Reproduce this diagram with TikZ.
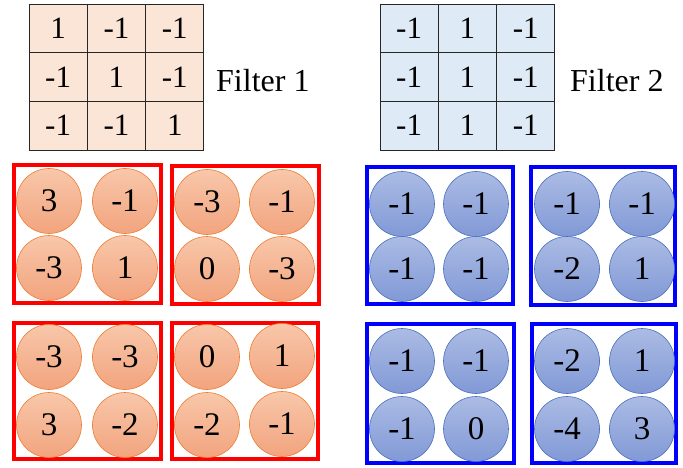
\documentclass[tikz,border=0pt]{standalone}
\usepackage{fontspec}
\setmainfont{Liberation Serif}
\definecolor{peach}{HTML}{FBE5D6}
\definecolor{paleblue}{HTML}{DEEBF7}
\definecolor{ortop}{HTML}{F8C7AA}
\definecolor{orbot}{HTML}{F2A47E}
\definecolor{orline}{HTML}{ED7D31}
\definecolor{bltop}{HTML}{ABBBE4}
\definecolor{blbot}{HTML}{8199D6}
\definecolor{blline}{HTML}{4A6FBE}
\tikzset{
  cellA/.style={draw=black!85, line width=0.9pt, fill=peach, minimum width=58.3pt, minimum height=48.7pt, inner sep=0pt, font=\fontsize{31}{33}\selectfont},
  cellB/.style={cellA, fill=paleblue},
  lbl/.style={anchor=base west, inner sep=0pt, font=\fontsize{32}{34}\selectfont},
  ocirc/.style={circle, draw=orline, line width=0.6pt, top color=ortop, bottom color=orbot, minimum size=65pt, inner sep=0pt, font=\fontsize{33}{35}\selectfont},
  bcirc/.style={circle, draw=blline, line width=0.6pt, top color=bltop, bottom color=blbot, minimum size=65pt, inner sep=0pt, font=\fontsize{33}{35}\selectfont},
  rbox/.style={draw=red, line width=4pt},
  bbox/.style={draw=blue, line width=4pt}
}
\begin{document}
\begin{tikzpicture}[x=1pt,y=-1pt]
\useasboundingbox (0,0) rectangle (683,468);
% Filter 1
\foreach \r/\vals in {1/{1,-1,-1},2/{-1,1,-1},3/{-1,-1,1}}{
  \foreach \v [count=\c] in \vals {
    \node[cellA] (fa\r\c) at ({29+58.3*(\c-0.5)},{4+48.7*(\r-0.5)}) {\v};
  }
}
\node[lbl] (f1) at (216,92) {Filter 1};
% Filter 2
\foreach \r/\vals in {1/{-1,1,-1},2/{-1,1,-1},3/{-1,1,-1}}{
  \foreach \v [count=\c] in \vals {
    \node[cellB] (fb\r\c) at ({380+58.3*(\c-0.5)},{4+48.7*(\r-0.5)}) {\v};
  }
}
\node[lbl] (f2) at (570,92) {Filter 2};
% red boxes
\draw[rbox] (14,165) rectangle (161,303);
\draw[rbox] (172,166) rectangle (319,304);
\draw[rbox] (14,323) rectangle (161,459);
\draw[rbox] (172,323) rectangle (318,459);
% blue boxes
\draw[bbox] (367,167) rectangle (513,304);
\draw[bbox] (531,167) rectangle (675,305);
\draw[bbox] (367,324) rectangle (514,463);
\draw[bbox] (532,324) rectangle (676,463);
% orange circles
\node[ocirc] (a1) at (49,201) {3};
\node[ocirc] (a2) at (125,201) {-1};
\node[ocirc] (a3) at (49,268) {-3};
\node[ocirc] (a4) at (125,268) {1};
\node[ocirc] (b1) at (207,202) {-3};
\node[ocirc] (b2) at (282,202) {-1};
\node[ocirc] (b3) at (207,269) {0};
\node[ocirc] (b4) at (282,269) {-3};
\node[ocirc] (c1) at (49,357) {-3};
\node[ocirc] (c2) at (125,357) {-3};
\node[ocirc] (c3) at (49,425) {3};
\node[ocirc] (c4) at (125,425) {-2};
\node[ocirc] (d1) at (207,357) {0};
\node[ocirc] (d2) at (282,356) {1};
\node[ocirc] (d3) at (207,425) {-2};
\node[ocirc] (d4) at (282,424) {-1};
% blue circles
\node[bcirc] (e1) at (402,204) {-1};
\node[bcirc] (e2) at (476,204) {-1};
\node[bcirc] (e3) at (402,269) {-1};
\node[bcirc] (e4) at (476,269) {-1};
\node[bcirc] (g1) at (567,204) {-1};
\node[bcirc] (g2) at (642,204) {-1};
\node[bcirc] (g3) at (567,269) {-2};
\node[bcirc] (g4) at (642,269) {1};
\node[bcirc] (h1) at (402,361) {-1};
\node[bcirc] (h2) at (476,361) {-1};
\node[bcirc] (h3) at (402,429) {-1};
\node[bcirc] (h4) at (476,429) {0};
\node[bcirc] (k1) at (567,361) {-2};
\node[bcirc] (k2) at (642,361) {1};
\node[bcirc] (k3) at (567,429) {-4};
\node[bcirc] (k4) at (642,429) {3};
\end{tikzpicture}
\end{document}
